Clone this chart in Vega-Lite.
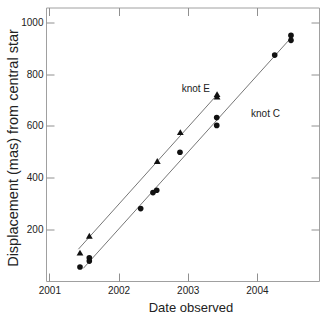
{
  "$schema": "https://vega.github.io/schema/vega-lite/v6.json",
  "autosize": {"type": "none"},
  "padding": {"left": 46, "top": 7.5, "right": 8, "bottom": 40},
  "width": 273,
  "height": 273.5,
  "background": "white",
  "config": {
    "view": {"stroke": "#a0a0a0", "strokeWidth": 1},
    "font": "Liberation Sans",
    "axis": {"domain": false, "grid": false}
  },
  "datasets": {
    "points": [
      {"knot": "C", "date": 2001.443, "disp": 54},
      {"knot": "C", "date": 2001.578, "disp": 90},
      {"knot": "C", "date": 2001.578, "disp": 77},
      {"knot": "C", "date": 2002.32, "disp": 280},
      {"knot": "C", "date": 2002.498, "disp": 342},
      {"knot": "C", "date": 2002.552, "disp": 351},
      {"knot": "C", "date": 2002.888, "disp": 498},
      {"knot": "C", "date": 2003.419, "disp": 632},
      {"knot": "C", "date": 2003.419, "disp": 602},
      {"knot": "C", "date": 2004.257, "disp": 874},
      {"knot": "C", "date": 2004.492, "disp": 950},
      {"knot": "C", "date": 2004.492, "disp": 931},
      {"knot": "E", "date": 2001.443, "disp": 110},
      {"knot": "E", "date": 2001.578, "disp": 175},
      {"knot": "E", "date": 2002.56, "disp": 464},
      {"knot": "E", "date": 2002.893, "disp": 576},
      {"knot": "E", "date": 2003.424, "disp": 723},
      {"knot": "E", "date": 2003.424, "disp": 713}
    ],
    "fits": [
      {"knot": "C", "date": 2001.491, "disp": 49},
      {"knot": "C", "date": 2004.49, "disp": 940},
      {"knot": "E", "date": 2001.42, "disp": 123},
      {"knot": "E", "date": 2003.43, "disp": 722}
    ],
    "labels": [
      {"text": "knot E", "date": 2003.117, "disp": 732},
      {"text": "knot C", "date": 2004.124, "disp": 636}
    ]
  },
  "layer": [
    {
      "data": {"name": "fits"},
      "mark": {"type": "line", "color": "#777777", "strokeWidth": 1},
      "encoding": {
        "x": {"field": "date", "type": "quantitative", "scale": {"domain": [2000.952, 2004.897], "nice": false, "zero": false},
          "axis": {"orient": "bottom", "values": [2001, 2002, 2003, 2004], "format": "d", "tickSize": -8, "tickColor": "#909090", "tickWidth": 1,
            "labelFontSize": 10, "labelColor": "#222222", "labelPadding": 12, "labelFont": "Liberation Sans",
            "title": "Date observed", "titleFontSize": 13, "titleFontWeight": "normal", "titleColor": "#222222", "titleFont": "Liberation Sans",
            "titleX": 144.5, "titleY": 30, "titleAlign": "center", "titleBaseline": "alphabetic"}},
        "y": {"field": "disp", "type": "quantitative", "scale": {"domain": [0, 1058], "nice": false, "zero": false},
          "axis": {"orient": "left", "values": [200, 400, 600, 800, 1000], "format": "d", "tickSize": -8, "tickColor": "#909090", "tickWidth": 1,
            "labelFontSize": 10, "labelColor": "#222222", "labelPadding": 11, "labelFont": "Liberation Sans",
            "title": "Displacement (mas) from central star", "titleFontSize": 14.5, "titleFontWeight": "normal", "titleColor": "#222222", "titleFont": "Liberation Sans",
            "titleAngle": -90, "titleX": -29, "titleY": 140, "titleAlign": "center", "titleBaseline": "alphabetic"}},
        "detail": {"field": "knot"}
      }
    },
    {
      "data": {"name": "points"},
      "mark": {"type": "point", "filled": true, "opacity": 1, "color": "#111111"},
      "encoding": {
        "x": {"field": "date", "type": "quantitative",
          "axis": {"orient": "top", "values": [2001, 2002, 2003, 2004], "labels": false, "title": null, "tickSize": -8, "tickColor": "#909090", "tickWidth": 1}},
        "y": {"field": "disp", "type": "quantitative",
          "axis": {"orient": "right", "values": [200, 400, 600, 800, 1000], "labels": false, "title": null, "tickSize": -8, "tickColor": "#909090", "tickWidth": 1}},
        "shape": {"field": "knot", "type": "nominal", "scale": {"domain": ["C", "E"], "range": ["circle", "triangle-up"]}, "legend": null},
        "size": {"field": "knot", "type": "nominal", "scale": {"domain": ["C", "E"], "range": [32, 46]}, "legend": null}
      }
    },
    {
      "data": {"name": "labels"},
      "mark": {"type": "text", "fontSize": 10, "color": "#222222", "align": "center", "baseline": "alphabetic", "font": "Liberation Sans"},
      "encoding": {
        "x": {"field": "date", "type": "quantitative", "axis": null},
        "y": {"field": "disp", "type": "quantitative", "axis": null},
        "text": {"field": "text", "type": "nominal"}
      }
    }
  ],
  "resolve": {"axis": {"x": "independent", "y": "independent"}}
}
